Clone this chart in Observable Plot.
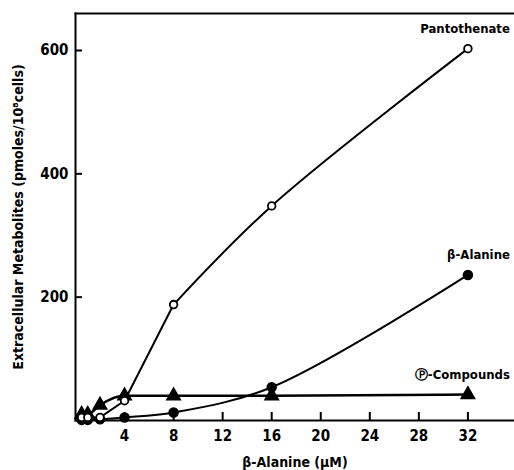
<!DOCTYPE html>
<html>
<head>
<meta charset="utf-8">
<script src="https://cdn.jsdelivr.net/npm/d3@7"></script>
<script src="https://cdn.jsdelivr.net/npm/@observablehq/plot@0.6"></script>
<style>
  html, body { margin: 0; padding: 0; background: #fff; }
  #chart svg { display: block; }
</style>
</head>
<body>
<div id="chart"></div>
<script>
const conc = [0.5, 1, 2, 4, 8, 16, 32];
const pantothenate = [5, 5, 5, 32, 188, 348, 603];
const betaAlanine = [1, 1, 2, 5, 13, 54, 236];
const pCompounds = [10, 10, 25, 40, 40, 40, 42];
const xTicks = [4, 8, 12, 16, 20, 24, 28, 32];
const yTicks = [200, 400, 600];
const seriesLabels = ["Pantothenate", "β-Alanine", "Ⓟ-Compounds"];
const labelAnchors = [[32, 603], [32, 236], [32, 42]];

const toRows = (vals) => conc.map((c, i) => ({x: c, y: vals[i]}));
const pRows = toRows(pantothenate);
const bRows = toRows(betaAlanine);
const cRows = toRows(pCompounds);
const pLow = pRows.filter(d => d.x <= 8);
const pHigh = pRows.filter(d => d.x >= 8);
const labelRows = seriesLabels.map((t, i) => ({x: labelAnchors[i][0], y: labelAnchors[i][1], t}));

const font = "'DejaVu Sans Condensed', 'DejaVu Sans', sans-serif";

const chart = Plot.plot({
  width: 514,
  height: 470,
  marginLeft: 75,
  marginRight: 0,
  marginTop: 13,
  marginBottom: 50,
  style: {fontFamily: font, fontSize: "14px", color: "#000", background: "#fff"},
  x: {domain: [0, 35.8]},
  y: {domain: [0, 660]},
  marks: [
    Plot.frame({anchor: "top", stroke: "#000", strokeWidth: 2}),
    Plot.frame({anchor: "bottom", stroke: "#000", strokeWidth: 2}),
    Plot.frame({anchor: "left", stroke: "#000", strokeWidth: 2}),
    Plot.axisX({ticks: xTicks, tickSize: -8, tickPadding: 18, strokeWidth: 2, fontSize: 15, fontWeight: "bold", label: null}),
    Plot.axisX({ticks: [], tickSize: 0, label: "β-Alanine (μM)", labelAnchor: "center", labelArrow: false, labelOffset: 46, fontWeight: "bold", fontSize: 14}),
    Plot.axisY({ticks: yTicks, tickSize: -7, tickPadding: 14, strokeWidth: 2, fontSize: 15, fontWeight: "bold", label: null}),
    Plot.axisY({ticks: [], tickSize: 0, label: "Extracellular Metabolites (pmoles/10⁸cells)", labelAnchor: "center", labelArrow: false, labelOffset: 62, fontWeight: "bold", fontSize: 14}),
    Plot.line(pLow, {x: "x", y: "y", curve: "linear", stroke: "#000", strokeWidth: 2}),
    Plot.line(pHigh, {x: "x", y: "y", curve: "catmull-rom", stroke: "#000", strokeWidth: 2}),
    Plot.line(bRows, {x: "x", y: "y", curve: "catmull-rom", stroke: "#000", strokeWidth: 2}),
    Plot.line(cRows, {x: "x", y: "y", curve: "monotone-x", stroke: "#000", strokeWidth: 2.5}),
    Plot.dot(cRows, {x: "x", y: "y", symbol: "triangle", r: 5, fill: "#000", stroke: "#000"}),
    Plot.dot(bRows, {x: "x", y: "y", r: 4.5, fill: "#000", stroke: "#000"}),
    Plot.dot(pRows, {x: "x", y: "y", r: 3.8, fill: "#fff", stroke: "#000", strokeWidth: 1.8}),
    Plot.text(labelRows, {x: "x", y: "y", text: "t", textAnchor: "end", dx: 42, dy: -20, fontWeight: "bold", fontSize: 13, fill: "#000"})
  ]
});
document.getElementById("chart").appendChild(chart);
</script>
</body>
</html>
